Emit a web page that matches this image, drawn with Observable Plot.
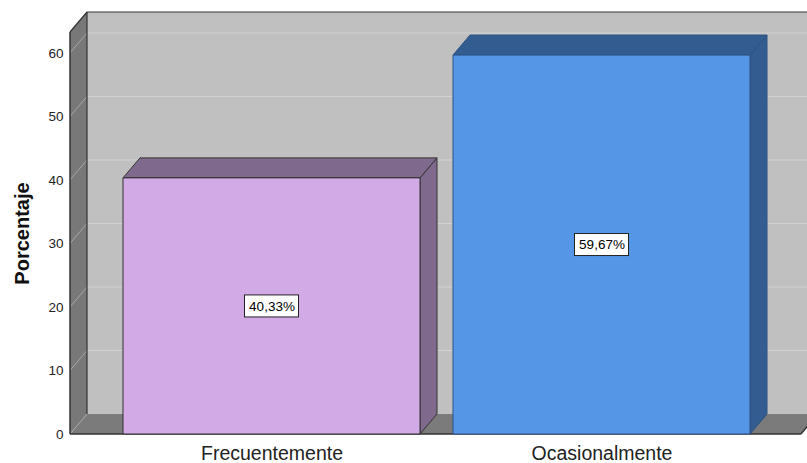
<!DOCTYPE html>
<html>
<head>
<meta charset="utf-8">
<script src="https://cdn.jsdelivr.net/npm/d3@7"></script>
<script src="https://cdn.jsdelivr.net/npm/@observablehq/plot@0.6"></script>
<style>
  html, body { margin: 0; padding: 0; background: #fff; }
  #chart svg { display: block; }
</style>
</head>
<body>
<div id="chart"></div>
<script>
const categories = ["Frecuentemente", "Ocasionalmente"];
const values = [40.33, 59.67];
const valueLabels = ["40,33%", "59,67%"];
const yTicks = [0, 10, 20, 30, 40, 50, 60];
const yMax = 63.3;
const yTitle = "Porcentaje";

const rows = categories.map((c, i) => ({cat: c, value: values[i], label: valueLabels[i]}));

const frontFill = {"Frecuentemente": "#d2aae6", "Ocasionalmente": "#5596e6"};
const sideFill = {"Frecuentemente": "#7f6a8e", "Ocasionalmente": "#335d91"};
const edgeStroke = {"Frecuentemente": "#333333", "Ocasionalmente": "#2c5282"};

const DX = 17, DY = -20;
const FONT = "'Liberation Sans', Arial, sans-serif";

function scene(index, scales, values_, dims) {
  const sx = scales.x, sy = scales.y;
  const bw = typeof sx.bandwidth === "function" ? sx.bandwidth() : sx.bandwidth;
  const L = dims.marginLeft, R = dims.width - dims.marginRight;
  const y0 = sy(0), yT = sy(yMax);
  const g = d3.create("svg:g");
  const poly = (pts, fill, stroke, sw = 1) =>
    g.append("polygon").attr("points", pts.map(p => p.join(",")).join(" "))
      .attr("fill", fill).attr("stroke", stroke || "none").attr("stroke-width", sw)
      .attr("stroke-linejoin", "miter");
  const line = (x1, y1, x2, y2, stroke, sw = 1) =>
    g.append("line").attr("x1", x1).attr("y1", y1).attr("x2", x2).attr("y2", y2)
      .attr("stroke", stroke).attr("stroke-width", sw);

  // back wall
  poly([[L + DX, yT + DY], [R + DX, yT + DY], [R + DX, y0 + DY], [L + DX, y0 + DY]], "#c0c0c0");
  for (const t of yTicks) if (t > 0) line(L + DX, sy(t) + DY, R + DX, sy(t) + DY, "#d2d2d2");
  // left wall
  poly([[L, y0], [L, yT], [L + DX, yT + DY], [L + DX, y0 + DY]], "#787878");
  // floor
  poly([[L, y0], [R, y0], [R + DX, y0 + DY], [L + DX, y0 + DY]], "#7b7b7b");
  // left wall diagonals
  for (const t of yTicks) line(L, sy(t), L + DX, sy(t) + DY, "#a6a6a6");
  // edges
  line(L + DX, yT + DY, R + DX, yT + DY, "#333", 1.2);
  line(L + DX, yT + DY, L + DX, y0 + DY, "#333", 1.2);
  line(L, yT, L + DX, yT + DY, "#333", 1.2);
  line(L, yT, L, y0, "#333", 1.5);
  line(L, y0, R, y0, "#333", 1.5);
  line(R, y0, R + DX, y0 + DY, "#333", 1.5);

  // bars
  for (const r of rows) {
    const x0 = sx(r.cat), x1 = x0 + bw, yt = sy(r.value), yb = sy(0);
    const st = edgeStroke[r.cat];
    poly([[x1, yb], [x1, yt], [x1 + DX, yt + DY], [x1 + DX, yb + DY]], sideFill[r.cat], st);
    poly([[x0, yt], [x1, yt], [x1 + DX, yt + DY], [x0 + DX, yt + DY]], sideFill[r.cat], st);
    poly([[x0, yt], [x1, yt], [x1, yb], [x0, yb]], frontFill[r.cat], st);
    // label box
    const cx = x0 + bw / 2, cy = sy(r.value / 2);
    g.append("rect").attr("x", cx - 27).attr("y", cy - 11).attr("width", 54).attr("height", 22)
      .attr("fill", "#fff").attr("stroke", "#222").attr("stroke-width", 1);
  }
  return g.node();
}

const chart = Plot.plot({
  width: 807,
  height: 463,
  marginLeft: 70,
  marginRight: 6,
  marginTop: 32,
  marginBottom: 29,
  style: {fontFamily: FONT, background: "#fff"},
  x: {type: "band", domain: categories, range: [106, 766], paddingInner: 0.1, paddingOuter: 0.05, axis: null},
  y: {domain: [0, yMax], axis: null},
  marks: [
    scene,
    Plot.text(rows, {x: "cat", y: d => d.value / 2, text: "label", fontSize: 13.5, fill: "#000"}),
    Plot.axisY(yTicks, {tickSize: 0, tickPadding: 7, fontSize: 13.5, fill: "#222", label: null}),
    Plot.axisX(categories, {tickSize: 0, tickPadding: 12, fontSize: 19.5, fill: "#222", label: null}),
    Plot.text([yTitle], {frameAnchor: "left", dx: -48, rotate: -90, textAnchor: "middle", fontSize: 20, fontWeight: "bold", fill: "#111"})
  ]
});
document.getElementById("chart").appendChild(chart);
</script>
</body>
</html>
